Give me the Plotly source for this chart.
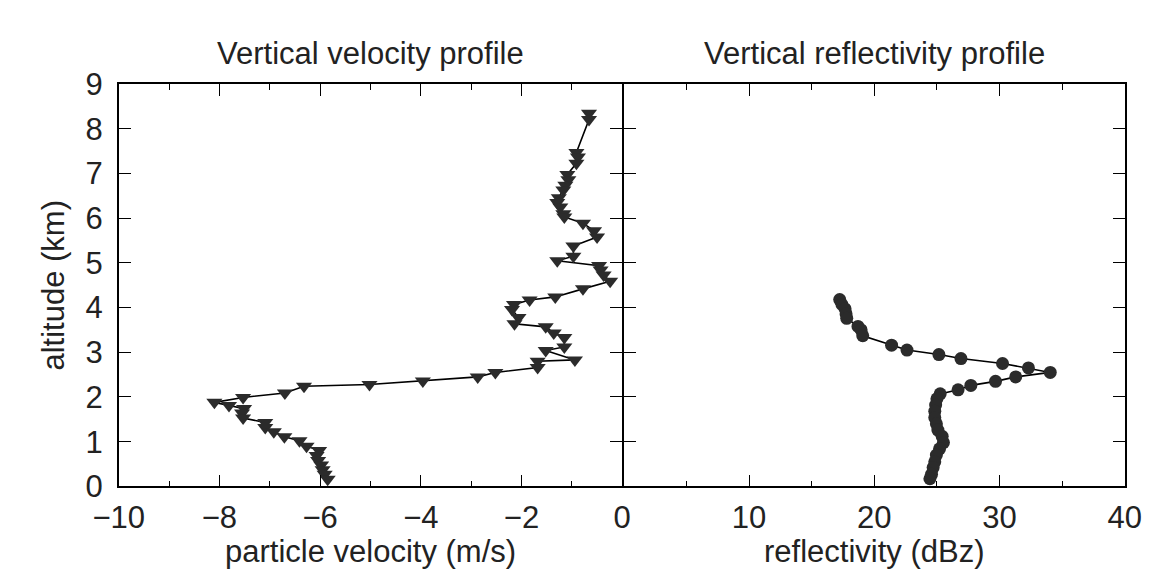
import plotly.graph_objects as go

# Left panel: particle velocity (m/s) vs altitude (km)
vel_alt = [8.35, 8.21, 7.47, 7.37, 7.23, 6.98, 6.86, 6.74, 6.63, 6.46, 6.35, 6.25, 6.10, 6.03,
           5.89, 5.72, 5.58, 5.38, 5.15, 5.05, 4.94, 4.84, 4.73, 4.59, 4.42, 4.24, 4.17, 4.07,
           3.96, 3.78, 3.64, 3.57, 3.43, 3.33, 3.12, 3.04, 2.83, 2.80, 2.66, 2.55, 2.45, 2.36,
           2.28, 2.24, 2.09, 1.99, 1.88, 1.81, 1.74, 1.64, 1.53, 1.43, 1.32, 1.22, 1.11, 1.02,
           0.90, 0.80, 0.69, 0.58, 0.48, 0.37, 0.27, 0.16]
velocity = [-0.66, -0.66, -0.91, -0.88, -0.91, -1.09, -1.07, -1.13, -1.17, -1.26, -1.29, -1.23, -1.17, -1.15,
            -0.78, -0.56, -0.50, -0.97, -0.97, -1.29, -0.46, -0.43, -0.37, -0.24, -0.78, -1.33, -1.84, -2.15,
            -2.19, -2.06, -2.14, -1.52, -1.36, -1.15, -1.15, -1.52, -0.94, -1.68, -1.68, -2.52, -2.87, -3.96,
            -5.02, -6.32, -6.70, -7.53, -8.10, -7.81, -7.51, -7.55, -7.53, -7.09, -7.09, -6.92, -6.71, -6.41,
            -6.27, -6.02, -6.07, -6.04, -5.98, -5.95, -5.91, -5.85]

# Right panel: reflectivity (dBz) vs altitude (km)
refl_alt = [4.18, 4.07, 3.97, 3.86, 3.76, 3.58, 3.50, 3.37, 3.16, 3.05, 2.95, 2.86, 2.75, 2.65, 2.55,
            2.45, 2.35, 2.26, 2.16, 2.07, 1.96, 1.82, 1.68, 1.54, 1.40, 1.26, 1.12, 0.98, 0.84, 0.70,
            0.55, 0.42, 0.27, 0.17]
reflectivity = [17.24, 17.42, 17.67, 17.75, 17.80, 18.70, 18.95, 19.08, 21.38, 22.61, 25.16, 26.92, 30.24,
                32.31, 34.05, 31.29, 29.68, 27.71, 26.69, 25.26, 25.0, 24.9, 24.83, 24.83, 24.96, 25.08,
                25.42, 25.52, 25.21, 24.96, 24.83, 24.70, 24.57, 24.44]

# Tick labels
vel_ticks = [-10, -8, -6, -4, -2, 0]
refl_ticks = [0, 10, 20, 30, 40]
refl_ticktext = ["", "10", "20", "30", "40"]  # the shared "0" is drawn once, by the left axis

titles = ["Vertical velocity profile", "Vertical reflectivity profile"]
xlabels = ["particle velocity (m/s)", "reflectivity (dBz)"]
ylabel = "altitude (km)"

W, H = 1154, 580
FONT = "Liberation Sans, Arial, Helvetica, sans-serif"
FS = 31
mark_col = "#2b2b2b"
LW = 1.6

def px_x(p):
    return p / W

def px_y(p):
    return 1 - p / H

x_left = (88, 611)
x_right = (611 + LW, 1133)
y_top, y_bot = 63, 491

fig = go.Figure()
fig.add_trace(go.Scatter(x=velocity, y=vel_alt, mode="lines+markers",
                         line=dict(color="black", width=1.6),
                         marker=dict(symbol="triangle-down", size=14, color=mark_col),
                         xaxis="x", yaxis="y", showlegend=False))
fig.add_trace(go.Scatter(x=reflectivity, y=refl_alt, mode="lines+markers",
                         line=dict(color="black", width=1.6),
                         marker=dict(symbol="circle", size=13, color=mark_col),
                         xaxis="x2", yaxis="y2", showlegend=False))

axis_common = dict(showline=True, linecolor="black", linewidth=LW, mirror="ticks",
                   ticks="inside", tickcolor="black", tickwidth=1.4, ticklen=12,
                   showgrid=False, zeroline=False,
                   tickfont=dict(family=FONT, size=FS, color="#222"))

fig.update_layout(
    width=W, height=H, margin=dict(l=0, r=0, t=0, b=0),
    paper_bgcolor="white", plot_bgcolor="white",
    xaxis=dict(domain=[px_x(x_left[0]), px_x(x_left[1])], range=[-10, 0],
               tickmode="array", tickvals=vel_ticks,
               minor=dict(ticks="inside", dtick=1, ticklen=6, tickcolor="black", tickwidth=1.2),
               anchor="y", tickformat="d", ticklabelstandoff=3, **axis_common),
    xaxis2=dict(domain=[px_x(x_right[0]), px_x(x_right[1])], range=[0, 40],
                tickmode="array", tickvals=refl_ticks, ticktext=refl_ticktext,
                minor=dict(ticks="inside", dtick=5, ticklen=6, tickcolor="black", tickwidth=1.2),
                anchor="y2", ticklabelstandoff=3, **axis_common),
    yaxis=dict(domain=[px_y(y_bot), px_y(y_top)], range=[0, 9], dtick=1, anchor="x",
               ticklabelstandoff=8, **axis_common),
    yaxis2=dict(domain=[px_y(y_bot), px_y(y_top)], range=[0, 9], dtick=1, anchor="x2",
                showticklabels=False, **axis_common),
)

ann_font = dict(family=FONT, size=FS, color="#222")
for i, (xl, t) in enumerate(zip([x_left, x_right], titles)):
    cx = (xl[0] + xl[1]) / 2
    fig.add_annotation(text=t, x=px_x(cx), y=px_y(30), xref="paper", yref="paper",
                       showarrow=False, xanchor="center", yanchor="middle", font=ann_font)
    fig.add_annotation(text=xlabels[i], x=px_x(cx), y=px_y(560), xref="paper", yref="paper",
                       showarrow=False, xanchor="center", yanchor="middle", font=ann_font)
fig.add_annotation(text=ylabel, x=px_x(20), y=px_y((y_top + y_bot) / 2), xref="paper", yref="paper",
                   showarrow=False, xanchor="center", yanchor="middle", textangle=-90, font=ann_font)

fig.write_html("out.html")
